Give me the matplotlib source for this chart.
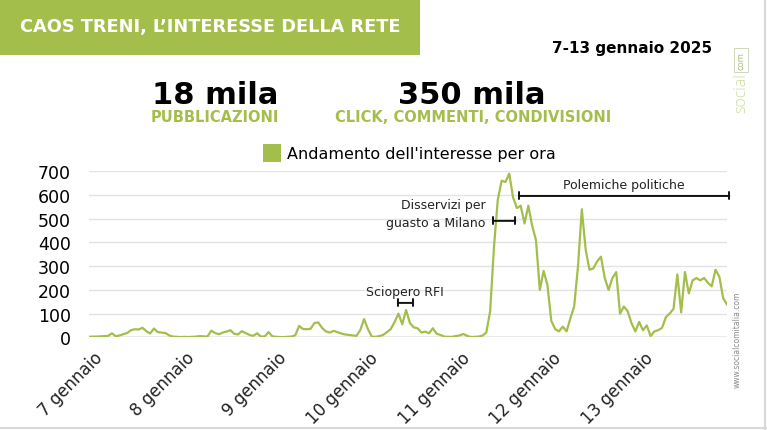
import matplotlib
matplotlib.use("Agg")
import matplotlib.pyplot as plt
import matplotlib.transforms as mtransforms
from matplotlib.patches import Rectangle

# hourly interest, 7-13 gennaio 2025 (hour 0 = 7 gennaio 00:00)
day_labels = ["7 gennaio", "8 gennaio", "9 gennaio", "10 gennaio",
              "11 gennaio", "12 gennaio", "13 gennaio"]
interest = [
    # 7 gennaio
    2, 3, 3, 4, 5, 6, 17, 4, 8, 13, 18, 30, 34, 33, 40, 26, 16, 37, 22, 20, 18, 8, 3, 2,
    # 8 gennaio
    1, 2, 1, 2, 3, 5, 4, 3, 28, 18, 13, 20, 24, 30, 15, 12, 26, 18, 10, 6, 17, 3, 4, 22,
    # 9 gennaio
    4, 2, 1, 1, 2, 3, 9, 48, 35, 34, 36, 60, 63, 40, 25, 20, 27, 22, 16, 12, 10, 8, 6, 30,
    # 10 gennaio
    77, 35, 3, 2, 5, 10, 22, 35, 65, 100, 55, 115, 60, 42, 38, 20, 24, 17, 38, 15, 10, 3, 2, 2,
    # 11 gennaio
    5, 8, 14, 6, 1, 2, 3, 7, 20, 110, 380, 580, 660, 655, 690, 590, 545, 555, 480, 555, 470, 410, 200, 280,
    # 12 gennaio
    220, 70, 35, 25, 45, 25, 80, 130, 300, 540, 370, 285, 290, 320, 340, 250, 200, 250, 275, 100, 130, 110, 60, 25,
    # 13 gennaio
    65, 30, 50, 5, 25, 30, 40, 85, 100, 120, 265, 105, 275, 185, 240, 250, 240, 250, 230, 215, 285, 255, 165, 138,
]
hours = list(range(len(interest)))
day_ticks = [24 * i for i in range(len(day_labels))]

# annotated periods: (label, start hour, end hour, bracket level)
events = [
    ("Sciopero RFI", 80.8, 84.7, 145),
    ("Disservizi per\nguasto a Milano", 105.8, 111.6, 491),
    ("Polemiche politiche", 112.6, 167.6, 596),
]

GREEN = "#a3be4b"
plt.rcParams["font.family"] = ["DejaVu Sans"]

fig = plt.figure(figsize=(7.67, 4.31), dpi=100)
fig.patch.set_facecolor("white")

# header band
fig.add_artist(Rectangle((0, 1 - 56 / 431), 420 / 767, 56 / 431,
                         transform=fig.transFigure, color=GREEN, lw=0))
fig.text(20 / 767, 1 - 27 / 431, "CAOS TRENI, L’INTERESSE DELLA RETE",
         color="white", fontsize=12.8, fontweight="bold", va="center", ha="left")
fig.text(712 / 767, 1 - 49 / 431, "7-13 gennaio 2025", fontsize=11,
         fontweight="bold", ha="right", va="center")

# key figures
fig.text(215 / 767, 1 - 95 / 431, "18 mila", fontsize=22, fontweight="heavy",
         ha="center", va="center")
fig.text(215 / 767, 1 - 118 / 431, "PUBBLICAZIONI", fontsize=10.5,
         fontweight="bold", color=GREEN, ha="center", va="center")
fig.text(472 / 767, 1 - 95 / 431, "350 mila", fontsize=22, fontweight="heavy",
         ha="center", va="center")
fig.text(473 / 767, 1 - 118 / 431, "CLICK, COMMENTI, CONDIVISIONI", fontsize=10.5,
         fontweight="bold", color=GREEN, ha="center", va="center")

# legend
fig.add_artist(Rectangle((263 / 767, 1 - 163 / 431), 18 / 767, 18 / 431,
                         transform=fig.transFigure, color=GREEN, lw=0))
fig.text(287 / 767, 1 - 154 / 431, "Andamento dell'interesse per ora",
         fontsize=11.5, ha="left", va="center")

# logo and site
fig.text(741 / 767, 1 - 93 / 431, "social", rotation=90, color="#cddc9e",
         fontsize=11.5, ha="center", va="center", family="Open Sans",
         fontweight="light")
fig.text(741 / 767, 1 - 61 / 431, "com", rotation=90, color="#a9bb78",
         fontsize=6, ha="center", va="center",
         bbox=dict(boxstyle="square,pad=0.35", fc="white", ec="#cfd6bd", lw=0.7))
fig.text(737 / 767, 1 - 340 / 431, "www.socialcomitalia.com", rotation=90,
         color="#8a8a8a", fontsize=5.5, ha="center", va="center")

# frame edges
fig.add_artist(plt.Line2D([765 / 767, 765 / 767], [0, 1], color="#d8d8d8", lw=1.5,
                          transform=fig.transFigure))
fig.add_artist(plt.Line2D([0, 1], [2 / 431, 2 / 431], color="#d8d8d8", lw=1.5,
                          transform=fig.transFigure))

# chart
ax = fig.add_axes([89 / 767, (431 - 338.3) / 431, 638 / 767, 166 / 431])
ax.plot(hours, interest, color=GREEN, lw=1.6, solid_joinstyle="round", zorder=3)
ax.set_xlim(0, 167)
ax.set_ylim(0, 700)
ax.set_yticks(range(0, 701, 100))
ax.grid(axis="y", color="#e3e3e3", lw=1)
ax.axhline(0, color="#b5b5b5", lw=1, zorder=2)
for s in ax.spines.values():
    s.set_visible(False)
ax.tick_params(axis="y", length=0, pad=13, labelsize=12.5)
ax.tick_params(axis="x", length=0, pad=8)
ax.set_xticks(day_ticks)
ax.set_xticklabels(day_labels, rotation=45, ha="right", va="top",
                   rotation_mode="anchor", fontsize=12, color="#222222")
offset = mtransforms.ScaledTranslation(5 / 100, 0, fig.dpi_scale_trans)
for lab in ax.get_xticklabels():
    lab.set_transform(lab.get_transform() + offset)

for label, x0, x1, level in events:
    ax.annotate("", xy=(x0, level), xytext=(x1, level),
                arrowprops=dict(arrowstyle="|-|,widthA=0.25,widthB=0.25",
                                color="#111111", lw=1.4, shrinkA=0, shrinkB=0))
    if "\n" in label:
        ax.text(x0 - 2, level + 30, label, ha="right", va="center",
                fontsize=9, linespacing=1.5, color="#222222")
    else:
        ax.text((x0 + x1) / 2, level + 50, label, ha="center", va="center",
                fontsize=9, color="#222222")

fig.savefig("out.png", dpi=100)
